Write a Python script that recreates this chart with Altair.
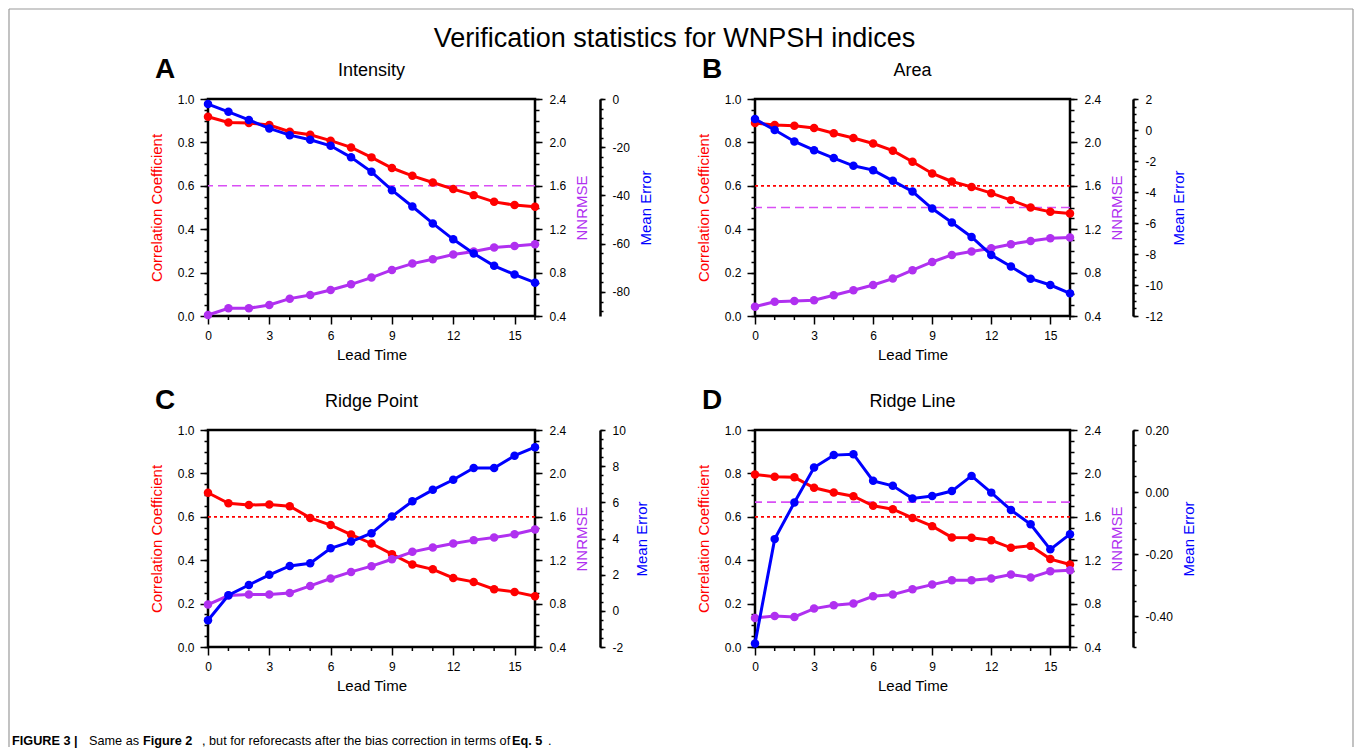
import altair as alt
import pandas as pd

# ---------------- data ----------------
LEAD = list(range(17))

A_CORR = [0.918, 0.892, 0.889, 0.880, 0.849, 0.835, 0.808, 0.777, 0.731, 0.682, 0.646, 0.615, 0.585, 0.557, 0.526, 0.511, 0.503]
A_NNRMSE = [0.409, 0.471, 0.471, 0.502, 0.560, 0.594, 0.640, 0.692, 0.754, 0.825, 0.883, 0.923, 0.966, 0.994, 1.031, 1.046, 1.062]
A_ME = [-2.1, -5.3, -8.7, -12.2, -15.0, -16.9, -19.4, -24.2, -30.2, -37.8, -44.6, -51.6, -58.2, -64.1, -69.2, -72.8, -76.2]

B_CORR = [0.889, 0.880, 0.877, 0.866, 0.842, 0.820, 0.795, 0.762, 0.711, 0.657, 0.620, 0.595, 0.566, 0.534, 0.500, 0.480, 0.472]
B_NNRMSE = [0.486, 0.532, 0.538, 0.545, 0.591, 0.637, 0.686, 0.745, 0.822, 0.898, 0.963, 0.994, 1.025, 1.062, 1.092, 1.117, 1.123]
B_ME = [0.71, 0.0, -0.74, -1.30, -1.81, -2.31, -2.59, -3.28, -3.97, -5.07, -5.97, -6.90, -8.06, -8.81, -9.59, -10.0, -10.54]

C_CORR = [0.711, 0.662, 0.654, 0.657, 0.649, 0.595, 0.562, 0.518, 0.477, 0.428, 0.380, 0.358, 0.318, 0.300, 0.266, 0.254, 0.234]
C_NNRMSE = [0.791, 0.874, 0.883, 0.883, 0.898, 0.963, 1.031, 1.092, 1.145, 1.209, 1.277, 1.317, 1.354, 1.385, 1.409, 1.440, 1.483]
C_ME = [-0.52, 0.86, 1.43, 1.99, 2.48, 2.63, 3.46, 3.83, 4.29, 5.22, 6.06, 6.69, 7.25, 7.90, 7.90, 8.58, 9.05]

D_CORR = [0.795, 0.785, 0.782, 0.734, 0.712, 0.695, 0.651, 0.635, 0.595, 0.557, 0.505, 0.503, 0.492, 0.457, 0.466, 0.405, 0.380]
D_NNRMSE = [0.668, 0.686, 0.677, 0.754, 0.785, 0.800, 0.868, 0.883, 0.932, 0.975, 1.015, 1.015, 1.031, 1.068, 1.040, 1.098, 1.108]
D_ME = [-0.489, -0.152, -0.034, 0.079, 0.119, 0.122, 0.036, 0.020, -0.021, -0.013, 0.003, 0.052, -0.002, -0.058, -0.104, -0.185, -0.136]

CORR = [A_CORR, B_CORR, C_CORR, D_CORR]
NNRMSE = [A_NNRMSE, B_NNRMSE, C_NNRMSE, D_NNRMSE]
ME = [A_ME, B_ME, C_ME, D_ME]

PANEL_LETTERS = ["A", "B", "C", "D"]
PANEL_TITLES = ["Intensity", "Area", "Ridge Point", "Ridge Line"]
CORR_REF = [None, 0.6, 0.6, 0.6]
NNRMSE_REF = [1.6, 1.4, None, 1.735]

ME_DOMAINS = [[-90, 0], [-12, 2], [-2, 10], [-0.5, 0.2]]
ME_MAJOR = [[0, -20, -40, -60, -80], [2, 0, -2, -4, -6, -8, -10, -12],
            [10, 8, 6, 4, 2, 0, -2], [0.2, 0.0, -0.2, -0.4]]
ME_MINOR_STEP = [4, 0.5, 0.5, 0.05]
ME_FORMAT = ["d", "d", "d", ".2f"]

CORR_MAJOR = [0.0, 0.2, 0.4, 0.6, 0.8, 1.0]
NN_MAJOR = [0.4, 0.8, 1.2, 1.6, 2.0, 2.4]
LEAD_MAJOR = [0, 3, 6, 9, 12, 15]

MAIN_TITLE = "Verification statistics for WNPSH indices"
CAPTION = [("FIGURE 3 |", "bold"), ("Same as", "normal"), ("Figure 2", "bold"),
           (", but for reforecasts after the bias correction in terms of", "normal"),
           ("Eq. 5", "bold"), (".", "normal")]

# ---------------- style / layout ----------------
FONT = "Liberation Sans"
RED = "#FF0000"
BLUE = "#0000FF"
PURPLE = "#B030F0"
MAGENTA = "#D94FF5"
FRAME = "#9a9a9a"

PANEL_W = [327, 315, 327, 315]
PANEL_H = 217
ME_OFFSET = [65, 63, 65, 63]
CAPTION_X = [-196, -119, -65, -6, 304, 340]


def steps(lo, hi, step):
    out = []
    v = hi
    while v >= lo - 1e-9:
        out.append(round(v, 6))
        v -= step
    return out


CORR_MINOR = steps(0, 1, 0.05)
NN_MINOR = steps(0.4, 2.4, 0.1)
LEAD_MINOR = [v for v in range(0, 17) if v not in LEAD_MAJOR]
MINUS_FIX = "replace(datum.label, '\u2212', '-')"
ONE = pd.DataFrame({"k": [0]})


def txt(text, x, y, size, weight="normal", color="black", align="center", font=FONT):
    return alt.Chart(ONE).mark_text(
        text=text, align=align, baseline="middle", fontSize=size,
        fontWeight=weight, color=color, font=font
    ).encode(x=alt.value(x), y=alt.value(y))


def panel(i):
    w = PANEL_W[i]
    df = pd.DataFrame({"lead": LEAD, "corr": CORR[i], "nn": NNRMSE[i], "me": ME[i]})
    xminor_df = pd.DataFrame({"lead": LEAD_MINOR})
    xs = alt.Scale(domain=[0, 16], nice=False, zero=False)
    cs = alt.Scale(domain=[0, 1], nice=False, zero=False)
    ns = alt.Scale(domain=[0.4, 2.4], nice=False, zero=False)
    ms = alt.Scale(domain=ME_DOMAINS[i], nice=False, zero=False)

    x_axis = alt.Axis(orient="bottom", values=LEAD_MAJOR, format="d", tickSize=8, tickWidth=1.5,
                      labelPadding=6, labelFlush=False, domain=False, grid=False,
                      title="Lead Time", titlePadding=6, titleColor="black")
    X = alt.X("lead:Q", scale=xs, axis=x_axis)  # identical x axis on every layer -> merged once

    c_axis = alt.Axis(orient="left", values=CORR_MAJOR, format=".1f", tickSize=8, tickWidth=1.5,
                      labelPadding=6, domain=False, grid=False, title="Correlation Coefficient",
                      titleColor=RED, titlePadding=13)
    c_minor = alt.Axis(orient="left", values=CORR_MINOR, tickSize=4, tickWidth=1.5,
                       labels=False, domain=False, grid=False, title=None)
    n_axis = alt.Axis(orient="right", values=NN_MAJOR, format=".1f", tickSize=7, tickWidth=1.5,
                      labelPadding=7, domain=False, grid=False, title="NNRMSE", titleColor=PURPLE,
                      titleAngle=270, titleBaseline="top", titlePadding=9)
    n_minor = alt.Axis(orient="right", values=NN_MINOR, tickSize=4, tickWidth=1.5,
                       labels=False, domain=False, grid=False, title=None)
    m_axis = alt.Axis(orient="right", offset=ME_OFFSET[i], values=ME_MAJOR[i], format=ME_FORMAT[i],
                      labelExpr=MINUS_FIX, tickSize=5, tickWidth=1.5, labelPadding=7,
                      domain=True, domainWidth=2.5, domainColor="black", grid=False,
                      title="Mean Error", titleColor=BLUE, titleAngle=270, titleBaseline="top",
                      titlePadding=9)
    lo, hi = ME_DOMAINS[i]
    m_minor = alt.Axis(orient="right", offset=ME_OFFSET[i], values=steps(lo, hi, ME_MINOR_STEP[i]),
                       tickSize=3, tickWidth=1.5, labels=False, domain=False, grid=False, title=None)

    base = alt.Chart(df)

    def series(field, color, scale, axis):
        return base.mark_line(
            color=color, strokeWidth=3,
            point=alt.OverlayMarkDef(filled=True, size=72, color=color, opacity=1)
        ).encode(x=X, y=alt.Y(f"{field}:Q", scale=scale, axis=axis))

    def hidden(field, scale, axis):
        return base.mark_point(opacity=0).encode(
            x=X, y=alt.Y(f"{field}:Q", scale=scale, axis=axis))

    layers = []
    if i == 0:
        fr = alt.Chart(ONE).mark_rule(color=FRAME, strokeWidth=1.2)
        layers += [
            fr.encode(x=alt.value(-199), y=alt.value(-90), y2=alt.value(648)),
            fr.encode(x=alt.value(1145), y=alt.value(-90), y2=alt.value(648)),
            fr.encode(x=alt.value(-199), x2=alt.value(1145), y=alt.value(-90)),
        ]
    if CORR_REF[i] is not None:
        layers.append(alt.Chart(ONE).mark_rule(color=RED, strokeWidth=1.8, strokeDash=[3, 3]).encode(
            y=alt.YDatum(CORR_REF[i], scale=cs, axis=None)))
    if NNRMSE_REF[i] is not None:
        layers.append(alt.Chart(ONE).mark_rule(color=MAGENTA, strokeWidth=1.6, strokeDash=[9, 5]).encode(
            y=alt.YDatum(NNRMSE_REF[i], scale=ns, axis=None)))

    layers += [
        series("corr", RED, cs, c_axis),
        series("nn", PURPLE, ns, n_axis),
        series("me", BLUE, ms, m_axis),
        # minor ticks of the lead-time axis, placed through the shared x scale
        alt.Chart(xminor_df).mark_rule(color="black", strokeWidth=1.5).encode(
            x=X, y=alt.value(PANEL_H), y2=alt.value(PANEL_H + 4)),
        hidden("corr", cs, c_minor),
        hidden("nn", ns, n_minor),
        hidden("me", ms, m_minor),
        txt(PANEL_LETTERS[i], -53, -29, 28, weight="bold", align="left"),
        txt(PANEL_TITLES[i], w / 2, -28, 18),
    ]
    if i == 0:
        layers.append(txt(MAIN_TITLE, 466.5, -60.5, 27))
    if i == 2:
        for (t, wt), cx in zip(CAPTION, CAPTION_X):
            layers.append(txt(t, cx, 311, 12.7, weight=wt, align="left"))

    return alt.layer(*layers).resolve_scale(y="independent").properties(width=w, height=PANEL_H)


panels = [panel(i) for i in range(4)]

chart = alt.concat(
    *panels, columns=2, spacing=alt.RowColnumber(row=114, column=220), bounds="flush"
).properties(
    padding={"left": 7, "top": 7, "right": 0, "bottom": 0}
).configure_view(
    stroke="black", strokeWidth=2.5
).configure_axis(
    labelFont=FONT, titleFont=FONT, labelFontSize=12, titleFontSize=15,
    titleFontWeight="normal", labelColor="black", tickColor="black"
)

chart.save("out.html", embed_options={"renderer": "svg", "actions": False})
